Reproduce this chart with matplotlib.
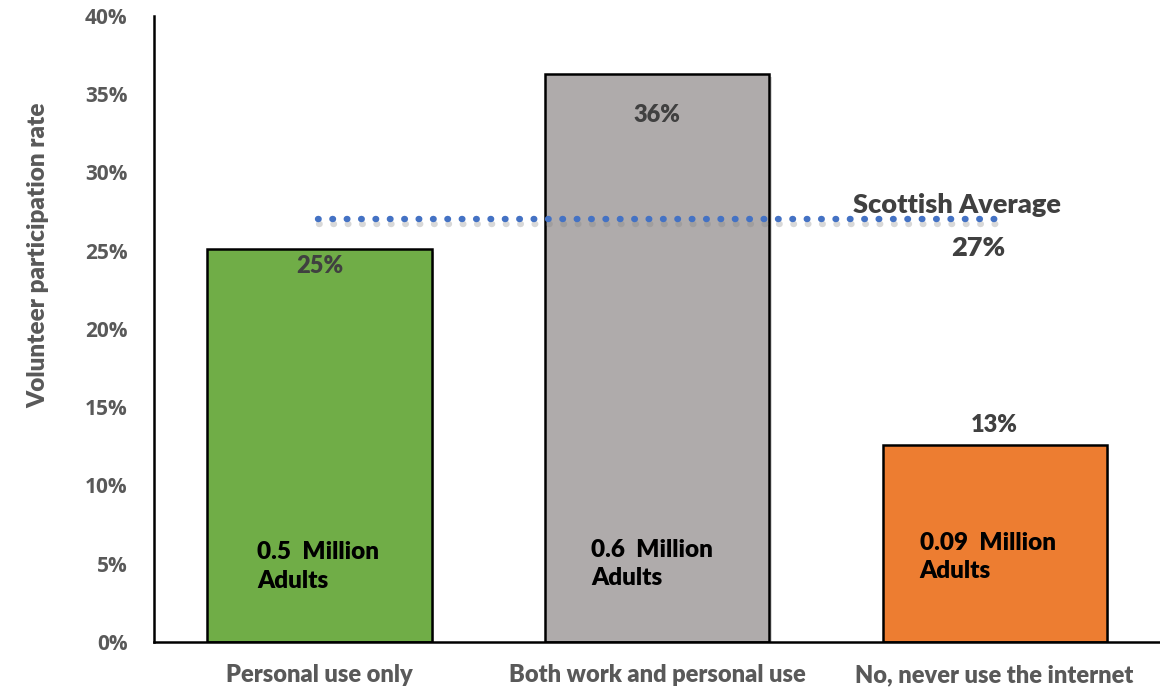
import matplotlib.pyplot as plt
import matplotlib.patheffects as pe
from matplotlib.ticker import PercentFormatter

categories = ['Personal use only', 'Both work and personal use', 'No, never use the internet']
rates = [0.251, 0.363, 0.126]
adults = ['0.5', '0.6', '0.09']
colors = ['#70AD47', '#AFABAB', '#ED7D31']
scottish_avg = 0.27

plt.rcParams['font.family'] = ['Lato', 'DejaVu Sans']
W = 'heavy'

fig = plt.figure(figsize=(11.6, 6.93), dpi=100)
ax = fig.add_axes([0.1328, 0.0736, 0.8672, 0.9034])

x = range(len(categories))
shadow = [pe.SimplePatchShadow(offset=(2, -2), shadow_rgbFace='gray', alpha=0.3), pe.Normal()]
bars = ax.bar(x, rates, width=0.664, color=colors, edgecolor='black', linewidth=1.8, zorder=2)
for b in bars:
    b.set_path_effects(shadow)

# Scottish average as a dotted line across the bars
ax.plot([-0.005, 2.0], [scottish_avg, scottish_avg], linestyle=(0, (0.1, 2.15)),
        color='#4472C4', linewidth=4.6, dash_capstyle='round', zorder=3,
        path_effects=[pe.SimpleLineShadow(offset=(1, -3), shadow_color='gray', alpha=0.3), pe.Normal()])
ax.text(1.58, 0.2795, 'Scottish Average', fontsize=19.5, fontweight=W, color='#404040',
        ha='left', va='center')
ax.text(1.95, 0.252, f'{scottish_avg:.0%}', fontsize=19.5, fontweight=W, color='#404040',
        ha='center', va='center')

# value labels
label_y = [rates[0] - 0.011, rates[1] - 0.026, rates[2] + 0.0125]
for i, (r, ly) in enumerate(zip(rates, label_y)):
    ax.text(i, ly, f'{r:.0%}', fontsize=17, fontweight=W, color='#404040',
            ha='center', va='center')

# population labels inside bars
pop_x = [-0.184, -0.196, -0.222]
pop_y = [0.0483, 0.050, 0.0543]
for i, (a, px, py) in enumerate(zip(adults, pop_x, pop_y)):
    ax.text(i + px, py, f'{a}  Million\nAdults', fontsize=17.5, fontweight=W,
            color='black', ha='left', va='center', linespacing=1.35)

ax.set_xlim(-0.49, 2.49)
ax.set_ylim(0, 0.40)
ax.set_yticks([i / 100 for i in range(0, 41, 5)])
ax.yaxis.set_major_formatter(PercentFormatter(1.0, decimals=0))
ax.set_xticks(list(x))
ax.set_xticklabels(categories)
ax.tick_params(axis='both', length=0, labelcolor='#595959')
ax.tick_params(axis='x', pad=16, labelsize=17)
ax.tick_params(axis='y', pad=19, labelsize=15)
for lab in ax.get_xticklabels():
    lab.set_fontweight(W)
for lab in ax.get_yticklabels():
    lab.set_fontweight('bold')
    lab.set_family(['Open Sans', 'DejaVu Sans'])

ax.set_ylabel('Volunteer participation rate', fontsize=17.5, fontweight=W, color='#595959')
ax.yaxis.set_label_coords(-0.104, 0.618)

for s in ['top', 'right']:
    ax.spines[s].set_visible(False)
for s in ['left', 'bottom']:
    ax.spines[s].set_linewidth(1.8)
    ax.spines[s].set_color('black')

fig.savefig('out.png', dpi=100)
